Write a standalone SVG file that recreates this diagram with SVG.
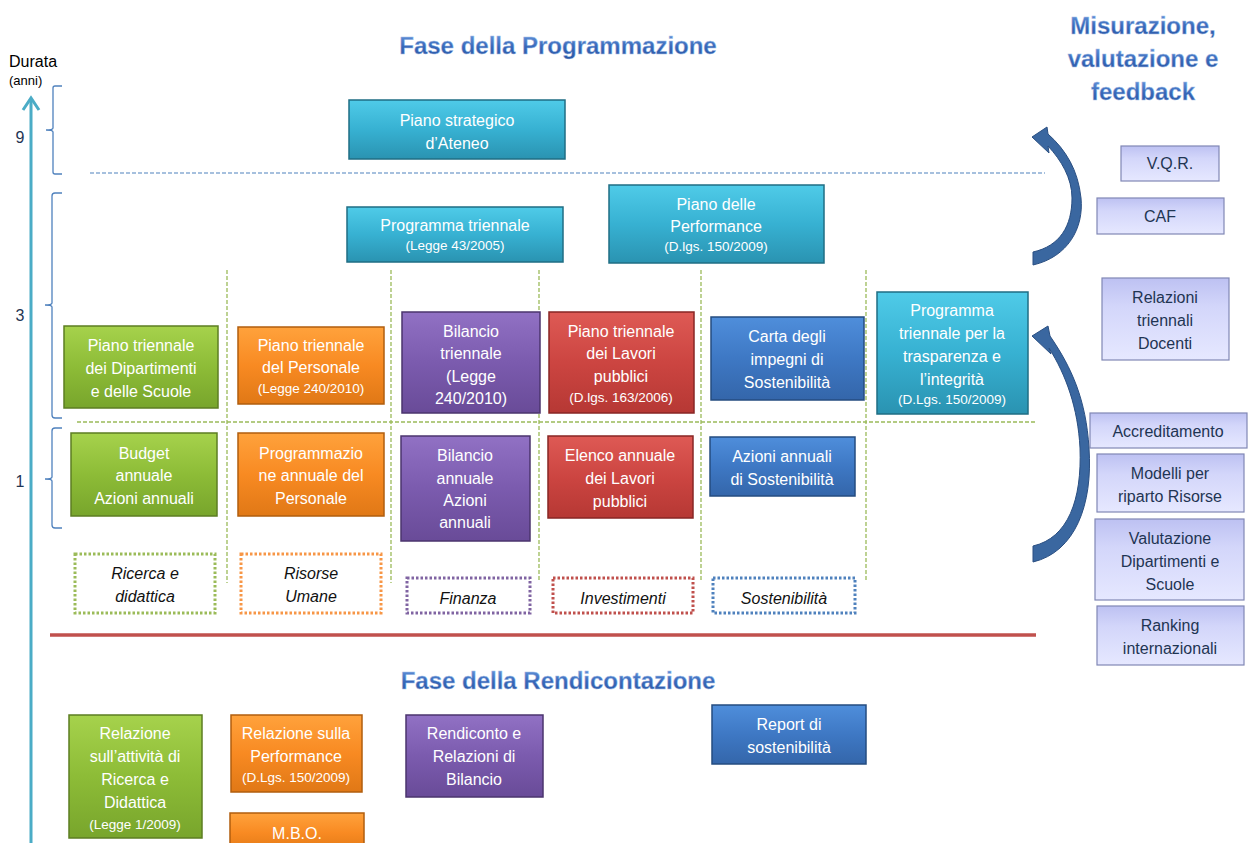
<svg xmlns="http://www.w3.org/2000/svg" width="1248" height="843" viewBox="0 0 1248 843">
<defs>
<linearGradient id="gCy" x1="0" y1="0" x2="0" y2="1"><stop offset="0" stop-color="#4FCBE8"/><stop offset="0.5" stop-color="#37B1D2"/><stop offset="1" stop-color="#2A93B1"/></linearGradient>
<linearGradient id="gGr" x1="0" y1="0" x2="0" y2="1"><stop offset="0" stop-color="#A6D24C"/><stop offset="0.5" stop-color="#8DBC37"/><stop offset="1" stop-color="#78A52C"/></linearGradient>
<linearGradient id="gOr" x1="0" y1="0" x2="0" y2="1"><stop offset="0" stop-color="#FFA23C"/><stop offset="0.5" stop-color="#F88A22"/><stop offset="1" stop-color="#E07816"/></linearGradient>
<linearGradient id="gPu" x1="0" y1="0" x2="0" y2="1"><stop offset="0" stop-color="#9171C4"/><stop offset="0.5" stop-color="#7B5BAE"/><stop offset="1" stop-color="#694B98"/></linearGradient>
<linearGradient id="gRe" x1="0" y1="0" x2="0" y2="1"><stop offset="0" stop-color="#DE5A55"/><stop offset="0.5" stop-color="#CC4541"/><stop offset="1" stop-color="#B63834"/></linearGradient>
<linearGradient id="gBl" x1="0" y1="0" x2="0" y2="1"><stop offset="0" stop-color="#4F8EDB"/><stop offset="0.5" stop-color="#3E78C4"/><stop offset="1" stop-color="#3466AA"/></linearGradient>
<linearGradient id="gLv" x1="0" y1="0" x2="0" y2="1"><stop offset="0" stop-color="#BDC1F2"/><stop offset="0.35" stop-color="#D3D6FA"/><stop offset="1" stop-color="#E6E8FF"/></linearGradient>
<linearGradient id="gTt" x1="0" y1="0" x2="0" y2="1"><stop offset="0" stop-color="#6A9BE0"/><stop offset="0.55" stop-color="#3868B8"/><stop offset="1" stop-color="#2A57A3"/></linearGradient>
<style>
.t{font-family:"Liberation Sans",Arial,sans-serif;}
.bx text{fill:#fff;font-family:"Liberation Sans",Arial,sans-serif;font-size:16px;text-anchor:middle;}
.bx text.sm{font-size:13.5px;}
.lv text{fill:#1F3553;font-family:"Liberation Sans",Arial,sans-serif;font-size:16px;text-anchor:middle;}
.lv rect{fill:url(#gLv);stroke:#8087B5;stroke-width:1.2;}
.lg text{fill:#111;font-family:"Liberation Sans",Arial,sans-serif;font-size:16px;font-style:italic;text-anchor:middle;}
.lg rect{fill:none;stroke-width:3;stroke-dasharray:2.5 2;}
.cy rect{fill:url(#gCy);stroke:#1F6E84;stroke-width:1.5;}
.gr rect{fill:url(#gGr);stroke:#5C7E22;stroke-width:1.5;}
.or rect{fill:url(#gOr);stroke:#B15E0E;stroke-width:1.5;}
.pu rect{fill:url(#gPu);stroke:#4B346E;stroke-width:1.5;}
.re rect{fill:url(#gRe);stroke:#882624;stroke-width:1.5;}
.bl rect{fill:url(#gBl);stroke:#244C80;stroke-width:1.5;}
.title{font-family:"Liberation Sans",Arial,sans-serif;font-weight:bold;font-size:24px;fill:url(#gTt);text-anchor:middle;stroke:#A9C1E8;stroke-width:0.4;}
.axl{font-family:"Liberation Sans",Arial,sans-serif;font-size:16px;fill:#1F3553;text-anchor:middle;}
.br{fill:none;stroke:#4F81BD;stroke-width:1.3;}
.gd{stroke:#9BBB59;stroke-width:1.3;stroke-dasharray:4 2;fill:none;}
</style>
</defs>
<rect width="1248" height="843" fill="#fff"/>

<!-- axis and scale -->
<g id="axis">
<text class="t" x="9" y="67" font-size="16" fill="#000">Durata</text>
<text class="t" x="9" y="85" font-size="13" fill="#000">(anni)</text>
<line x1="31" y1="843" x2="31" y2="99" stroke="#4BACC6" stroke-width="3"/>
<polyline points="23,110 31,98 39,110" fill="none" stroke="#4BACC6" stroke-width="3"/>
<path class="br" d="M62,86 L55,86 Q53,86 53,88 L53,128 Q53,130 46,130 Q53,130 53,132 L53,172 Q53,174 55,174 L62,174"/>
<path class="br" d="M62,193 L55,193 Q52,193 52,196 L52,303 Q52,305 45,305 Q52,305 52,307 L52,415 Q52,418 55,418 L62,418"/>
<path class="br" d="M62,428 L55,428 Q52,428 52,431 L52,477 Q52,479 45,479 Q52,479 52,481 L52,525 Q52,528 55,528 L62,528"/>
<text class="axl" x="20" y="143">9</text>
<text class="axl" x="20" y="321">3</text>
<text class="axl" x="20" y="487">1</text>
</g>

<!-- titles -->
<g id="titles">
<text class="title" x="558" y="54">Fase della Programmazione</text>
<text class="title" x="558" y="689">Fase della Rendicontazione</text>
<text class="title" x="1143" y="34">Misurazione,</text>
<text class="title" x="1143" y="67">valutazione e</text>
<text class="title" x="1143" y="100">feedback</text>
</g>

<!-- grid lines -->
<g id="grid">
<line x1="90" y1="173" x2="1045" y2="173" stroke="#4F81BD" stroke-width="1.2" stroke-dasharray="4 2"/>
<line class="gd" x1="77" y1="422" x2="1036" y2="422"/>
<line class="gd" x1="227" y1="270" x2="227" y2="583"/>
<line class="gd" x1="391" y1="270" x2="391" y2="583"/>
<line class="gd" x1="539" y1="270" x2="539" y2="582"/>
<line class="gd" x1="701" y1="270" x2="701" y2="582"/>
<line class="gd" x1="866" y1="270" x2="866" y2="582"/>
<line x1="50" y1="635" x2="1036" y2="635" stroke="#C0504D" stroke-width="3.5"/>
</g>

<!-- programmazione nodes -->
<g id="piano-strategico" class="bx cy"><rect x="349" y="100" width="216" height="59"/><text x="457" y="126">Piano strategico</text><text x="457" y="149">d’Ateneo</text></g>
<g id="programma-triennale" class="bx cy"><rect x="347" y="207" width="216" height="55"/><text x="455" y="231">Programma triennale</text><text class="sm" x="455" y="250">(Legge 43/2005)</text></g>
<g id="piano-performance" class="bx cy"><rect x="609" y="185" width="215" height="78"/><text x="716" y="210">Piano delle</text><text x="716" y="232">Performance</text><text class="sm" x="716" y="251">(D.lgs. 150/2009)</text></g>
<g id="programma-trasparenza" class="bx cy"><rect x="877" y="292" width="151" height="122"/><text x="952" y="316">Programma</text><text x="952" y="339">triennale per la</text><text x="952" y="362">trasparenza e</text><text x="952" y="385">l’integrità</text><text class="sm" x="952" y="404">(D.Lgs. 150/2009)</text></g>

<g id="piano-dipartimenti" class="bx gr"><rect x="64" y="326" width="154" height="82"/><text x="141" y="351">Piano triennale</text><text x="141" y="374">dei Dipartimenti</text><text x="141" y="397">e delle Scuole</text></g>
<g id="piano-personale" class="bx or"><rect x="238" y="327" width="146" height="77"/><text x="311" y="351">Piano triennale</text><text x="311" y="373">del Personale</text><text class="sm" x="311" y="393">(Legge 240/2010)</text></g>
<g id="bilancio-triennale" class="bx pu"><rect x="402" y="312" width="138" height="101"/><text x="471" y="337">Bilancio</text><text x="471" y="359">triennale</text><text x="471" y="382">(Legge</text><text x="471" y="404">240/2010)</text></g>
<g id="piano-lavori" class="bx re"><rect x="549" y="312" width="145" height="101"/><text x="621" y="337">Piano triennale</text><text x="621" y="359">dei Lavori</text><text x="621" y="382">pubblici</text><text class="sm" x="621" y="402">(D.lgs. 163/2006)</text></g>
<g id="carta-impegni" class="bx bl"><rect x="711" y="317" width="153" height="83"/><text x="787" y="342">Carta degli</text><text x="787" y="365">impegni di</text><text x="787" y="388">Sostenibilità</text></g>

<g id="budget-annuale" class="bx gr"><rect x="71" y="433" width="146" height="83"/><text x="144" y="459">Budget</text><text x="144" y="481">annuale</text><text x="144" y="504">Azioni annuali</text></g>
<g id="programmazione-personale" class="bx or"><rect x="238" y="433" width="146" height="83"/><text x="311" y="459">Programmazio</text><text x="311" y="481">ne annuale del</text><text x="311" y="504">Personale</text></g>
<g id="bilancio-annuale" class="bx pu"><rect x="401" y="436" width="129" height="105"/><text x="465" y="461">Bilancio</text><text x="465" y="484">annuale</text><text x="465" y="506">Azioni</text><text x="465" y="528">annuali</text></g>
<g id="elenco-lavori" class="bx re"><rect x="548" y="436" width="145" height="82"/><text x="620" y="461">Elenco annuale</text><text x="620" y="484">dei Lavori</text><text x="620" y="507">pubblici</text></g>
<g id="azioni-sostenibilita" class="bx bl"><rect x="710" y="437" width="145" height="59"/><text x="782" y="462">Azioni annuali</text><text x="782" y="485">di Sostenibilità</text></g>

<!-- legend categories -->
<g id="cat-ricerca" class="lg"><rect x="75" y="554" width="140" height="59" stroke="#9BBB59"/><text x="145" y="579">Ricerca e</text><text x="145" y="602">didattica</text></g>
<g id="cat-risorse" class="lg"><rect x="241" y="554" width="140" height="59" stroke="#F79646"/><text x="311" y="579">Risorse</text><text x="311" y="602">Umane</text></g>
<g id="cat-finanza" class="lg"><rect x="407" y="578" width="123" height="35" stroke="#8064A2"/><text x="468" y="604">Finanza</text></g>
<g id="cat-investimenti" class="lg"><rect x="553" y="578" width="140" height="35" stroke="#C0504D"/><text x="623" y="604">Investimenti</text></g>
<g id="cat-sostenibilita" class="lg"><rect x="713" y="578" width="142" height="35" stroke="#4F81BD"/><text x="784" y="604">Sostenibilità</text></g>

<!-- rendicontazione nodes -->
<g id="relazione-ricerca" class="bx gr"><rect x="69" y="715" width="133" height="123"/><text x="135" y="739">Relazione</text><text x="135" y="762">sull’attività di</text><text x="135" y="785">Ricerca e</text><text x="135" y="808">Didattica</text><text class="sm" x="135" y="829">(Legge 1/2009)</text></g>
<g id="relazione-performance" class="bx or"><rect x="231" y="715" width="131" height="77"/><text x="296" y="739">Relazione sulla</text><text x="296" y="762">Performance</text><text class="sm" x="296" y="782">(D.Lgs. 150/2009)</text></g>
<g id="mbo" class="bx or"><rect x="230" y="813" width="134" height="40"/><text x="297" y="839">M.B.O.</text></g>
<g id="rendiconto" class="bx pu"><rect x="406" y="715" width="137" height="82"/><text x="474" y="739">Rendiconto e</text><text x="474" y="762">Relazioni di</text><text x="474" y="785">Bilancio</text></g>
<g id="report-sostenibilita" class="bx bl"><rect x="712" y="705" width="154" height="59"/><text x="789" y="730">Report di</text><text x="789" y="753">sostenibilità</text></g>

<!-- misurazione nodes -->
<g id="vqr" class="lv"><rect x="1121" y="146" width="98" height="35"/><text x="1170" y="169">V.Q.R.</text></g>
<g id="caf" class="lv"><rect x="1097" y="198" width="127" height="36"/><text x="1160" y="222">CAF</text></g>
<g id="relazioni-docenti" class="lv"><rect x="1102" y="278" width="127" height="82"/><text x="1165" y="303">Relazioni</text><text x="1165" y="326">triennali</text><text x="1165" y="349">Docenti</text></g>
<g id="accreditamento" class="lv"><rect x="1090" y="413" width="157" height="35"/><text x="1168" y="437">Accreditamento</text></g>
<g id="modelli-riparto" class="lv"><rect x="1097" y="454" width="147" height="58"/><text x="1170" y="479">Modelli per</text><text x="1170" y="502">riparto Risorse</text></g>
<g id="valutazione-dipartimenti" class="lv"><rect x="1095" y="519" width="149" height="81"/><text x="1170" y="544">Valutazione</text><text x="1170" y="567">Dipartimenti e</text><text x="1170" y="590">Scuole</text></g>
<g id="ranking" class="lv"><rect x="1097" y="606" width="147" height="59"/><text x="1170" y="631">Ranking</text><text x="1170" y="654">internazionali</text></g>

<!-- connectors: feedback curved arrows -->
<g id="connectors" fill="#3A67A0" stroke="#2A4F82" stroke-width="1" stroke-linejoin="round">
<path d="M1033,265 C1068,257 1084,228 1081,198 C1078,170 1066,150 1048,134 L1047,127 L1032,137 L1049,153 L1048,146 C1061,160 1072,178 1072,198 C1072,226 1060,246 1033,252 Z"/>
<path d="M1033,562 C1075,552 1093,505 1089,448 C1086,400 1072,368 1050,336 L1048,326 L1032,336 L1051,354 L1049,348 C1066,375 1078,408 1080,448 C1082,500 1068,538 1033,546 Z"/>
</g>
</svg>
